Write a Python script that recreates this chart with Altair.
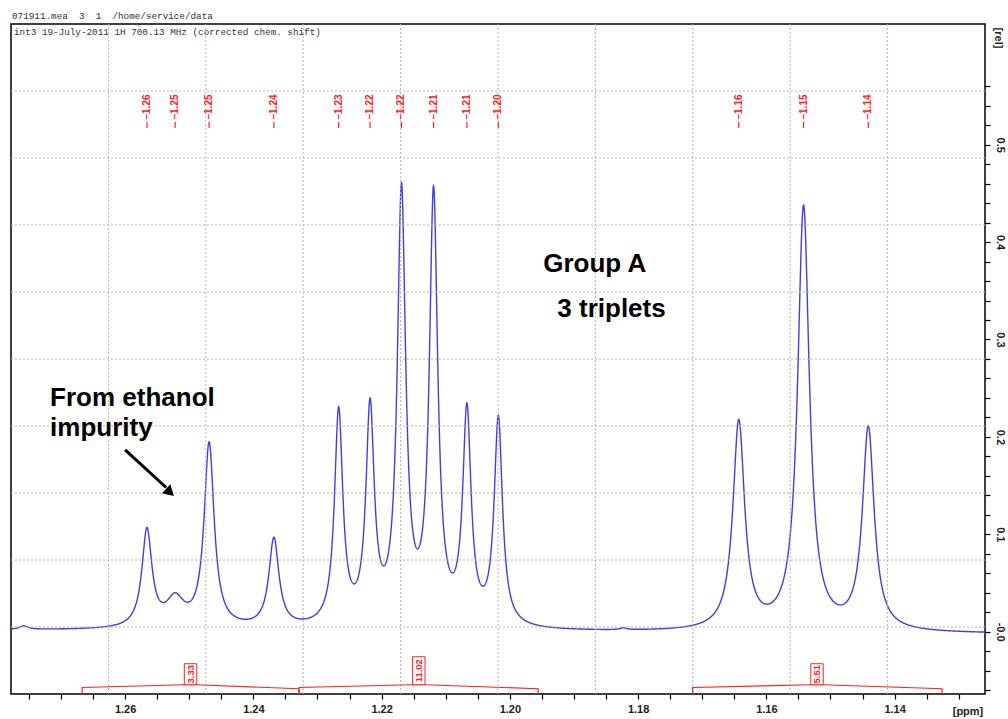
import altair as alt
import numpy as np
import pandas as pd

# ---- plot frame -----------------------------------------------------------
X_DOMAIN = [1.1259, 1.2778]      # ppm, drawn high -> low
Y_DOMAIN = [-0.0640, 0.6239]     # relative intensity
W, H = 974, 670

# ---- resolved lines of the 1H spectrum -----------------------------------
line_ppm = [1.2758, 1.2566, 1.2522, 1.2469, 1.2368, 1.2267, 1.2218, 1.2169,
            1.2119, 1.2067, 1.2018, 1.1823, 1.1643, 1.1542, 1.1441]
line_height = [0.006, 0.107, 0.040, 0.195, 0.097, 0.231, 0.240, 0.461,
               0.458, 0.235, 0.222, 0.004, 0.218, 0.438, 0.2115]
line_halfwidth = [0.0008, 0.00094, 0.0017, 0.00094, 0.00094, 0.00078, 0.00078,
                  0.00078, 0.00078, 0.00078, 0.00078, 0.0006, 0.0011, 0.0011,
                  0.0011]
baseline_ends = [0.0015, -0.0022]   # at the left / right edge

# ---- peak picking labels -------------------------------------------------
pick_ppm = [1.2566, 1.2522, 1.2469, 1.2368, 1.2267, 1.2218, 1.2169, 1.2119,
            1.2067, 1.2018, 1.1643, 1.1542, 1.1441]
pick_text = ["1.26", "1.25", "1.25", "1.24", "1.23", "1.22", "1.22", "1.21",
             "1.21", "1.20", "1.16", "1.15", "1.14"]

# ---- integrals -------------------------------------------------------------
int_start = [1.2667, 1.2329, 1.1715]
int_end = [1.2329, 1.1956, 1.1326]
int_label_ppm = [1.2498, 1.2142, 1.1521]
int_value = ["3.33", "11.02", "5.51"]
int_levels = [-0.0573, -0.0545, -0.0586]   # start, under label, end

# ---- annotations -----------------------------------------------------------
note_text = ["Group A", "3 triplets", "From ethanol", "impurity"]
note_ppm = [1.1948, 1.1926, 1.2717, 1.2717]
note_rel = [0.3688, 0.3231, 0.2317, 0.2009]
arrow_ppm = [1.2600, 1.2536]
arrow_rel = [0.1866, 0.1480]
arrow_head = [1.2530, 0.1430]

RED = "#ff2020"
BLUE = "#3f3fe6"
NBSP = "\u00a0"

# ---- build the spectrum from the line list -------------------------------
c = np.array(line_ppm)
g = np.array(line_halfwidth)
ppm = np.arange(X_DOMAIN[0], X_DOMAIN[1], 0.00003)
base = np.interp(ppm, X_DOMAIN, baseline_ends[::-1])
base_c = np.interp(c, X_DOMAIN, baseline_ends[::-1])
M = 1.0 / (1.0 + ((c[:, None] - c[None, :]) / g[None, :]) ** 2)
amp = np.linalg.solve(M, np.array(line_height) - base_c)
rel = base + (amp[None, :] / (1.0 + ((ppm[:, None] - c[None, :]) / g[None, :]) ** 2)).sum(axis=1)
spectrum = pd.DataFrame({"ppm": ppm, "rel": rel})

x_scale = alt.Scale(domain=X_DOMAIN, reverse=True, nice=False, zero=False)
y_scale = alt.Scale(domain=Y_DOMAIN, nice=False, zero=False)

x_ticks = [round(1.275 - 0.005 * i, 3) for i in range(30)]
y_ticks = [round(-0.06 + 0.02 * i, 2) for i in range(32)]

x_axis = alt.Axis(values=x_ticks, tickSize=5, tickColor="black", tickWidth=1.2,
                  domain=False, grid=False, title=None,
                  labelExpr="(round(datum.value*1000) % 20 == 0) ? format(datum.value, '.2f') : ''",
                  labelFont="Liberation Sans", labelFontWeight="bold", labelFontSize=11,
                  labelColor="#222", labelPadding=4, labelFlush=False, labelOverlap=False)
y_axis = alt.Axis(orient="right", values=y_ticks, tickSize=5, tickColor="black", tickWidth=1.2,
                  domain=False, grid=False, title=None,
                  labelExpr="datum.value == 0 ? '-0.0' : ((round(datum.value*100) % 10 == 0) ? format(datum.value, '.1f') : '')",
                  labelAngle=90, labelAlign="center", labelBaseline="bottom",
                  labelFont="Liberation Sans", labelFontWeight="bold", labelFontSize=11,
                  labelColor="#222", labelPadding=4, labelFlush=False, labelOverlap=False)


def X(f="ppm"):
    return alt.X(f"{f}:Q", scale=x_scale, axis=x_axis)


def Y(f="rel"):
    return alt.Y(f"{f}:Q", scale=y_scale, axis=y_axis)


# ---- spectrum ---------------------------------------------------------------
line = alt.Chart(spectrum).mark_line(color=BLUE, strokeWidth=1.4, clip=True).encode(
    x=X(), y=Y())

# ---- dotted grid (ten equal divisions of the frame) ----------------------
gx = pd.DataFrame({"ppm": [X_DOMAIN[0] + i * (X_DOMAIN[1] - X_DOMAIN[0]) / 10 for i in range(1, 10)]})
gy = pd.DataFrame({"rel": [Y_DOMAIN[0] + i * (Y_DOMAIN[1] - Y_DOMAIN[0]) / 10 for i in range(1, 10)]})
grid_style = dict(color="#b4b4b4", strokeWidth=1, strokeDash=[2, 2])
grid_v = alt.Chart(gx).mark_rule(**grid_style).encode(x=X())
grid_h = alt.Chart(gy).mark_rule(**grid_style).encode(y=Y())

# ---- peak labels -----------------------------------------------------------
picks = pd.DataFrame({"ppm": pick_ppm, "txt": ["\u2013" + t for t in pick_text]})
pick_txt = alt.Chart(picks).mark_text(color=RED, angle=270, font="Liberation Sans",
                                      fontSize=10, fontWeight="bold",
                                      align="center", baseline="middle").encode(
    x=X(), y=alt.value(83), text="txt:N")
pick_tick = alt.Chart(picks).mark_rule(color=RED, strokeWidth=1.2).encode(
    x=X(), y=alt.value(98), y2=alt.value(104))

# ---- integral traces --------------------------------------------------------
rows = []
box_half = 0.00097
for i in range(3):
    xs = [int_start[i], int_start[i], int_label_ppm[i] + box_half,
          int_label_ppm[i] - box_half, int_end[i], int_end[i]]
    ys = [Y_DOMAIN[0], int_levels[0], int_levels[1], int_levels[1], int_levels[2], Y_DOMAIN[0]]
    for k, (a, b) in enumerate(zip(xs, ys)):
        rows.append({"seg": i, "k": k, "ppm": a, "rel": b})
int_df = pd.DataFrame(rows)
int_line = alt.Chart(int_df).mark_line(color=RED, strokeWidth=1.2, clip=True).encode(
    x=X(), y=Y(), detail="seg:N", order="k:Q")

boxes = pd.DataFrame({
    "x1": [p + box_half for p in int_label_ppm],
    "x2": [p - box_half for p in int_label_ppm],
    "y1": [int_levels[1]] * 3,
    "y2": [int_levels[1] + (7 * len(v) - 7) / 974 for v in int_value],
    "txt": int_value,
})
boxes["ym"] = (boxes["y1"] + boxes["y2"]) / 2
boxes["xm"] = (boxes["x1"] + boxes["x2"]) / 2
int_box = alt.Chart(boxes).mark_rect(fill="white", stroke=RED, strokeWidth=1).encode(
    x=X("x1"), x2="x2", y=Y("y1"), y2="y2")
int_txt = alt.Chart(boxes).mark_text(color=RED, angle=270, font="Liberation Sans",
                                     fontSize=9.5, fontWeight="bold",
                                     align="center", baseline="middle").encode(
    x=X("xm"), y=Y("ym"), text="txt:N")

# ---- annotations ------------------------------------------------------------
notes = pd.DataFrame({"ppm": note_ppm, "rel": note_rel, "txt": note_text})
note_mark = alt.Chart(notes).mark_text(font="Liberation Sans", fontWeight="bold", fontSize=26,
                                       align="left", baseline="alphabetic", color="black").encode(
    x=X(), y=Y(), text="txt:N")
arrow_df = pd.DataFrame({"ppm": arrow_ppm, "rel": arrow_rel})
arrow_line = alt.Chart(arrow_df).mark_line(color="black", strokeWidth=3).encode(x=X(), y=Y())
head_df = pd.DataFrame({"ppm": [arrow_head[0]], "rel": [arrow_head[1]]})
arrow_tip = alt.Chart(head_df).mark_point(shape="triangle-up", filled=True, color="black",
                                          size=150, angle=133, opacity=1).encode(x=X(), y=Y())

# ---- header and unit texts --------------------------------------------------
mono = dict(font="Liberation Mono", fontSize=9.3, align="left", baseline="middle", color="#333")
header1 = alt.Chart(pd.DataFrame({"t": [f"071911.mea{NBSP*2}3{NBSP*2}1{NBSP*2}/home/service/data"]})).mark_text(
    **mono).encode(x=alt.value(1), y=alt.value(-8), text="t:N")
header2 = alt.Chart(pd.DataFrame({"t": ["int3 19-July-2011 1H 700.13 MHz (corrected chem. shift)"]})).mark_text(
    **mono).encode(x=alt.value(3), y=alt.value(8), text="t:N")
ppm_unit = alt.Chart(pd.DataFrame({"t": ["[ppm]"]})).mark_text(
    font="Liberation Sans", fontWeight="bold", fontSize=11, color="#222",
    align="center", baseline="middle").encode(x=alt.value(957), y=alt.value(688), text="t:N")
rel_unit = alt.Chart(pd.DataFrame({"t": ["[rel]"]})).mark_text(
    font="Liberation Sans", fontWeight="bold", fontSize=11, color="#222", angle=90,
    align="center", baseline="bottom").encode(x=alt.value(982), y=alt.value(14), text="t:N")

chart = alt.layer(
    line, grid_v, grid_h, pick_txt, pick_tick, int_line, int_box, int_txt,
    note_mark, arrow_line, arrow_tip, header1, header2, ppm_unit, rel_unit,
).properties(
    width=W, height=H,
    autosize=alt.AutoSizeParams(type="none"),
    padding={"left": 11, "top": 24, "right": 23, "bottom": 25},
    background="white",
).configure_view(stroke="black", strokeWidth=1.5)

chart.save("out.html", embed_options={"renderer": "svg", "actions": False})
